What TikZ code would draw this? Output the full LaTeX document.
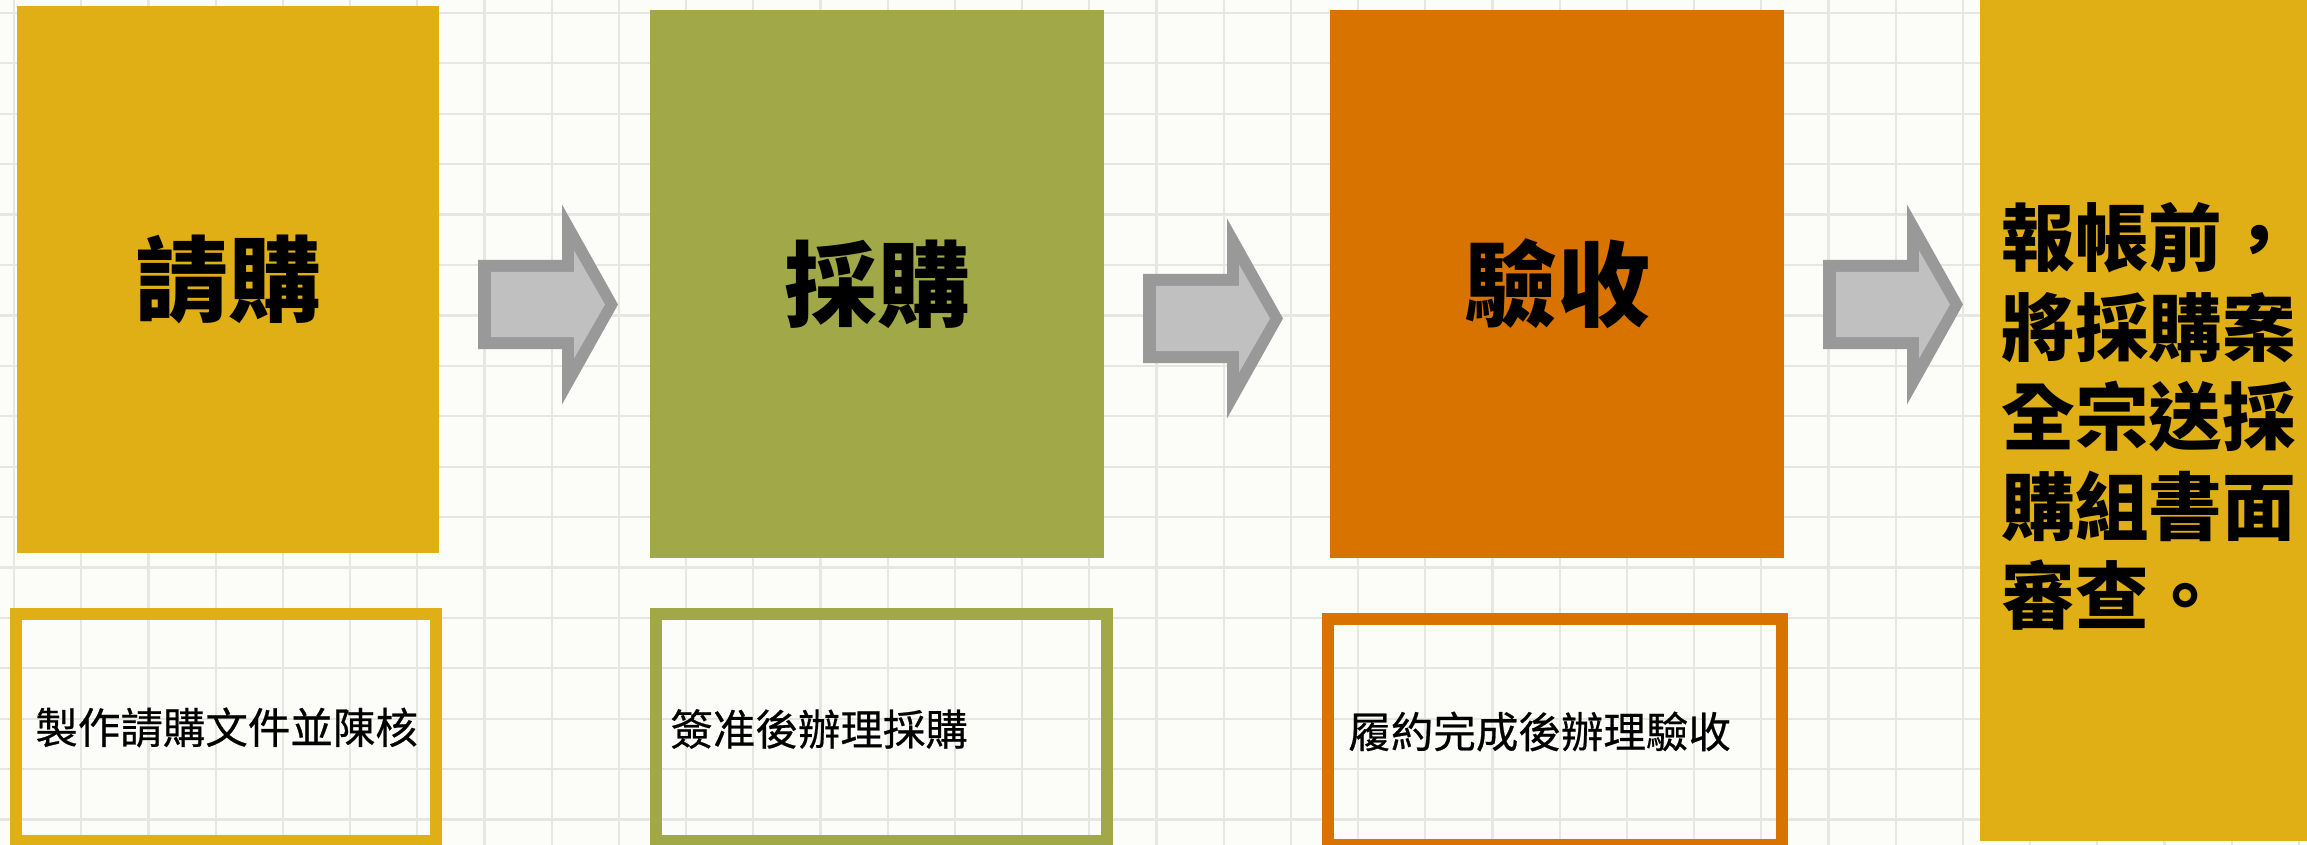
\documentclass[tikz,border=0pt]{standalone}
\usepackage{fontspec}
\newfontfamily\cjk{Noto Sans CJK TC}
\newfontfamily\cjkm[FakeBold=0.5]{Noto Sans CJK TC}
\definecolor{gold}{RGB}{224,174,21}
\definecolor{olive}{RGB}{161,168,72}
\definecolor{orng}{RGB}{216,115,0}
\definecolor{bgc}{RGB}{252,252,248}
\definecolor{gridc}{RGB}{231,231,226}
\definecolor{arrowedge}{RGB}{153,153,153}
\definecolor{arrowbody}{RGB}{192,192,192}
\tikzset{
  mainbox/.style={rectangle, inner sep=0pt, outer sep=0pt, draw=none},
  outbox/.style={rectangle, inner sep=0pt, outer sep=0pt, line width=6pt},
  maintext/.style={inner sep=0pt, font=\cjk\bfseries\fontsize{46.5}{50}\selectfont, text=black},
  subtext/.style={inner sep=0pt, anchor=west, font=\cjkm\fontsize{21.25}{24}\selectfont, text=black},
  sidetext/.style={inner sep=0pt, anchor=west, align=left, font=\cjk\bfseries\fontsize{36.8}{44.75}\selectfont, text=black},
  gridline/.style={draw=gridc, line width=1.1pt},
  blockarrow/.pic={
    \fill[arrowedge] (0,-44.5) -- (84,-44.5) -- (84,-100) -- (140,0) -- (84,100) -- (84,44.5) -- (0,44.5) -- cycle;
    \fill[arrowbody] (13,-32.5) -- (96,-32.5) -- (96,-54) -- (127,0) -- (96,54) -- (96,32.5) -- (13,32.5) -- cycle;
  }
}
\begin{document}
\begin{tikzpicture}[x=0.5pt,y=-0.5pt]
\useasboundingbox (0,0) rectangle (2307,845);
\clip (0,0) rectangle (2307,845);
\fill[bgc] (0,0) rectangle (2307,845);
\foreach \k in {0,...,34} \draw[gridline] ({14+67.2*\k},0) -- ({14+67.2*\k},845);
\foreach \k in {0,...,16} \draw[gridline] (0,{13+50.4*\k}) -- (2307,{13+50.4*\k});

% main coloured boxes
\node[mainbox, fill=gold, minimum width=211pt, minimum height=273.5pt] (b1) at (228,279.5) {};
\node[mainbox, fill=olive, minimum width=227pt, minimum height=274pt] (b2) at (877,284) {};
\node[mainbox, fill=orng, minimum width=227pt, minimum height=274pt] (b3) at (1557,284) {};
\node[mainbox, fill=gold, minimum width=163.5pt, minimum height=420.5pt] (b4) at (2143.5,420.5) {};

\node[maintext] (l1) at (b1.center) {請購};
\node[maintext] (l2) at (b2.center) {採購};
\node[maintext] (l3) at (b3.center) {驗收};
\node[sidetext] (l4) at (2001,416.5) {報帳前，\\將採購案\\全宗送採\\購組書面\\審查。};

% outlined description boxes
\node[outbox, draw=gold, minimum width=210pt, minimum height=113.5pt] (o1) at (226,727.5) {};
\node[outbox, draw=olive, minimum width=225.5pt, minimum height=113.5pt] (o2) at (881.5,727.5) {};
\node[outbox, draw=orng, minimum width=227pt, minimum height=113pt] (o3) at (1555,732) {};

\node[subtext] (d1) at (35,727.5) {製作請購文件並陳核};
\node[subtext] (d2) at (670,729) {簽准後辦理採購};
\node[subtext] (d3) at (1348,731.5) {履約完成後辦理驗收};

% block arrows between the stages
\pic at (478,304.5) {blockarrow};
\pic at (1143,318.5) {blockarrow};
\pic at (1823,304.5) {blockarrow};
\end{tikzpicture}
\end{document}
